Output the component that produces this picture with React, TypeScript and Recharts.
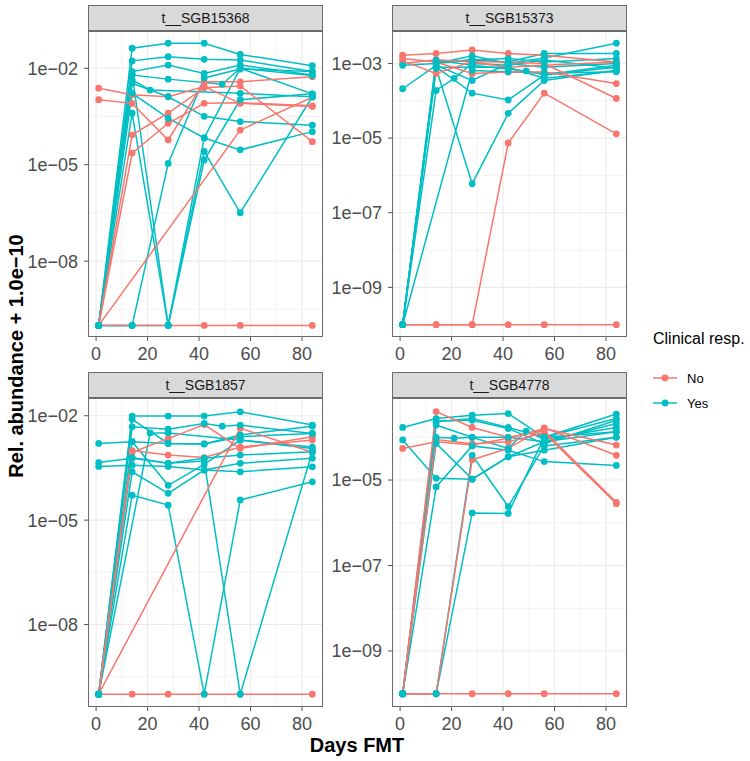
import { ComposedChart, Line, Scatter, XAxis, YAxis, CartesianGrid } from "recharts";

// zero counts are shifted by this pseudo count before the log scale
const PSEUDO = 1e-10;

// sampling days (null = sample missing for that subject)
const DAYS = [1, 14, 21, 28, 42, 49, 56, 84];
const X_TICKS = [0, 20, 40, 60, 80];
const X_MINOR = [10, 30, 50, 70];

const RED = "#F8766D";
const TEAL = "#00BFC4";

// y breaks
const TICKS_3DEC = [1e-2, 1e-5, 1e-8];
const MINOR_3DEC = [10 ** -3.5, 10 ** -6.5, 10 ** -9.5];
const TICKS_SGB15373 = [1e-3, 1e-5, 1e-7, 1e-9];
const TICKS_SGB4778 = [1e-5, 1e-7, 1e-9];
const MINOR_2DEC = [1e-4, 1e-6, 1e-8, 1e-10];

// t__SGB15368
const sgb15368No = [
  [2.4e-3, 1.5e-3, null, 1.3e-3, 2.7e-3, null, 8.1e-4, 6.5e-4],
  [1.05e-3, 8.1e-4, null, 5.9e-5, 3.8e-3, null, 3.8e-3, 5.5e-3],
  [0, 8.5e-5, null, 4.0e-4, 2.5e-3, null, 2.8e-3, 5.2e-5],
  [0, 2.3e-5, null, 1.95e-4, 8.1e-4, null, 8.5e-4, 6.8e-4],
  [0, null, null, null, null, null, 1.2e-4, 1.26e-3],
  [0, 0, null, 0, 0, null, 0, 0],
];
const sgb15368Yes = [
  [0, 4.2e-2, null, 6.0e-2, 6.0e-2, null, 2.7e-2, 1.2e-2],
  [0, 1.7e-2, null, 2.3e-2, 1.9e-2, null, 1.8e-2, 7.9e-3],
  [0, 7.9e-3, null, 1.26e-2, 6.9e-3, null, 1.26e-2, 6.2e-3],
  [0, 6.2e-3, null, 4.6e-3, null, 3.2e-3, 1.0e-2, 1.6e-3],
  [0, 4.4e-3, 2.1e-3, null, null, null, 1.66e-3, 1.3e-3],
  [0, 3.4e-3, null, 1.3e-3, 3.2e-4, null, 2.2e-4, 1.7e-4],
  [0, 1.66e-3, null, 2.8e-4, 6.8e-5, null, 2.9e-5, 1.07e-4],
  [0, 4.0e-4, null, 0, 2.6e-5, null, 3.2e-7, 1.3e-3],
  [0, 6.3e-3, null, 0, 6.8e-5, null, 1.0e-2, 6.0e-3],
  [0, 0, null, 1.1e-5, 5.0e-3, null, 9.5e-3, 8.0e-3],
  [0, 0, null, 0, 1.4e-5, null, 1.05e-3, 1.6e-3],
];

// t__SGB15373
const sgb15373No = [
  [1.66e-3, 1.86e-3, null, 2.3e-3, 1.86e-3, null, 1.66e-3, 1.1e-3],
  [1.35e-3, 1.1e-3, null, 5.4e-4, 5.9e-4, null, 5.9e-4, 2.9e-4],
  [1.17e-3, 5.4e-4, null, 1.12e-3, 1.1e-3, null, 1.0e-3, 1.15e-4],
  [1.0e-3, 1.26e-3, null, 1.1e-3, 7.9e-4, null, 8.9e-4, 1.1e-3],
  [0, 0, null, 0, 7.4e-6, null, 1.6e-4, 1.3e-5],
  [0, 0, null, 0, 0, null, 0, 0],
];
const sgb15373Yes = [
  [8.9e-4, 1.0e-3, null, 1.6e-3, 1.0e-3, null, 1.4e-3, 3.5e-3],
  [2.1e-4, 8.9e-4, null, 3.5e-4, 1.0e-3, null, 7.9e-4, 1.0e-3],
  [0, 1.1e-3, null, 1.23e-3, 1.1e-3, null, 1.86e-3, 1.86e-3],
  [0, 8.1e-4, null, 1.6e-4, 1.05e-4, null, 4.9e-4, 7.9e-4],
  [0, 7.4e-4, null, 6.0e-7, 4.6e-5, null, 3.5e-4, 6.6e-4],
  [0, 1.9e-4, 4.0e-4, 1.0e-3, 8.9e-4, null, 1.23e-3, 7.4e-4],
  [0, 1.23e-3, null, 8.9e-4, 7.1e-4, 6.3e-4, 5.0e-4, 8.9e-4],
  [0, 1.0e-3, null, 1.26e-3, 1.35e-3, null, 1.1e-3, 1.35e-3],
  [0, 7.9e-4, null, 7.9e-4, 7.9e-4, null, 4.0e-4, 6.3e-4],
  [0, null, null, 6.5e-4, 6.0e-4, null, 5.5e-4, 6.0e-4],
];

// t__SGB1857
const sgb1857No = [
  [0, 8.9e-4, null, 2.2e-3, 5.6e-3, null, 1.15e-3, 2.5e-3],
  [0, 1.0e-3, null, 7.4e-4, 6.3e-4, null, 1.26e-3, 2.0e-3],
  [0, null, null, null, null, null, 4.4e-3, 8.9e-4],
  [0, 0, null, 0, 0, null, 0, 0],
];
const sgb1857Yes = [
  [0, 9.8e-3, null, 9.8e-3, 9.8e-3, null, 1.3e-2, 5.4e-3],
  [1.6e-3, 1.8e-3, null, 1.6e-3, 1.55e-3, null, 2.5e-3, 3.1e-3],
  [4.5e-4, 6.0e-4, null, 4.3e-4, 6.0e-4, null, 7.4e-4, 9.3e-4],
  [3.5e-4, 3.8e-4, null, 3.5e-4, 2.75e-4, null, 2.45e-4, 3.4e-4],
  [0, 4.8e-3, null, 4.1e-3, 6.0e-3, 5.0e-3, 5.4e-3, 3.1e-3],
  [0, null, 3.2e-3, 3.2e-3, null, null, 2.0e-3, 1.15e-3],
  [0, 1.8e-3, null, 1.0e-4, 4.0e-4, null, 2.0e-3, 1.26e-3],
  [0, 2.45e-4, null, 5.9e-5, 2.75e-4, null, 4.3e-4, 6.0e-4],
  [0, 5.2e-5, null, 2.7e-5, 0, null, 3.8e-5, 1.26e-4],
  [0, 6.3e-4, null, 4.3e-4, 5.0e-4, null, 0, 9.3e-4],
  [0, 7.9e-3, null, 1.6e-3, 1.55e-3, null, 2.8e-3, 5.0e-3],
];

// t__SGB4778
const sgb4778No = [
  [5.5e-5, 7.9e-5, null, 6.6e-5, 9.5e-5, null, 1.6e-4, 6.6e-5],
  [0, 4.0e-4, null, 1.7e-4, 1.0e-4, null, 1.4e-4, 3.0e-6],
  [0, 0, null, 3.0e-5, 5.5e-5, null, 1.66e-4, 3.8e-5],
  [0, 8.9e-5, null, 7.1e-5, 7.9e-5, null, 1.26e-4, 2.8e-6],
  [0, 0, null, 0, 0, null, 0, 0],
];
const sgb4778Yes = [
  [1.7e-4, 2.75e-4, null, 3.3e-4, 3.6e-4, null, 1.0e-4, 3.5e-4],
  [8.7e-5, 1.1e-5, null, 1.05e-5, 3.5e-5, null, 7.9e-5, 1.35e-4],
  [0, 2.3e-4, null, 2.75e-4, 1.7e-4, null, 1.0e-4, 2.75e-4],
  [0, 1.95e-4, null, 1.0e-4, 1.0e-4, null, 7.9e-5, 2.1e-4],
  [0, 1.0e-4, 9.5e-5, 1.0e-4, 5.5e-5, 1.4e-4, 8.9e-5, 1.7e-4],
  [0, 7.2e-5, null, 1.05e-5, 3.5e-5, null, 5.0e-5, 1.0e-4],
  [0, 6.9e-6, null, 6.3e-5, 5.0e-5, null, 2.7e-5, 2.2e-5],
  [0, 0, null, 3.8e-5, 2.4e-6, null, 6.3e-5, 1.0e-4],
  [0, 0, null, 1.7e-6, 1.66e-6, null, 1.0e-4, 1.35e-4],
  [0, 2.4e-4, null, 2.5e-4, 1.6e-4, null, 7.1e-5, 2.5e-4],
];

const PANELS = [
  { name: "t__SGB15368", left: 88, top: 31, h: 306, lo: -10.36, hi: -0.84, ticks: TICKS_3DEC, minor: MINOR_3DEC, no: sgb15368No, yes: sgb15368Yes },
  { name: "t__SGB15373", left: 392, top: 31, h: 306, lo: -10.33, hi: -2.13, ticks: TICKS_SGB15373, minor: MINOR_2DEC, no: sgb15373No, yes: sgb15373Yes },
  { name: "t__SGB1857", left: 88, top: 398, h: 309, lo: -10.37, hi: -1.49, ticks: TICKS_3DEC, minor: MINOR_3DEC, no: sgb1857No, yes: sgb1857Yes },
  { name: "t__SGB4778", left: 392, top: 398, h: 309, lo: -10.31, hi: -3.08, ticks: TICKS_SGB4778, minor: MINOR_2DEC, no: sgb4778No, yes: sgb4778Yes },
];

const PANEL_W = 235;
const AXIS_W = 88;
const AXIS_H = 34;
const STRIP_H = 26;
const FONT = "'Liberation Sans', Arial, Helvetica, sans-serif";

type Pt = { day: number; v: number };

function toPoints(vals: (number | null)[]): Pt[] {
  const out: Pt[] = [];
  vals.forEach((val, i) => {
    if (val !== null) out.push({ day: DAYS[i], v: val + PSEUDO });
  });
  return out;
}

const sciLabel = (v: number) => {
  const e = Math.round(Math.log10(v));
  return `1e${e < 0 ? "\u2212" : "+"}${String(Math.abs(e)).padStart(2, "0")}`;
};

const dotShape = (color: string) => (props: any) =>
  <circle cx={props.cx} cy={props.cy} r={3.4} fill={color} stroke="none" />;

function Panel({ p }: { p: (typeof PANELS)[number] }) {
  const noSeries = p.no.map(toPoints);
  const yesSeries = p.yes.map(toPoints);
  const tickStyle = { fill: "#4D4D4D", fontSize: 18, fontFamily: FONT };
  return (
    <>
      <div
        style={{
          position: "absolute",
          left: p.left,
          top: p.top - STRIP_H,
          width: PANEL_W,
          height: STRIP_H,
          boxSizing: "border-box",
          background: "#D9D9D9",
          border: "1px solid #6b6b6b",
          fontSize: 14,
          color: "#1A1A1A",
          display: "flex",
          alignItems: "center",
          justifyContent: "center",
        }}
      >
        {p.name}
      </div>
      <div style={{ position: "absolute", left: p.left - AXIS_W, top: p.top }}>
        <ComposedChart
          width={AXIS_W + PANEL_W}
          height={p.h + AXIS_H}
          margin={{ top: 0, right: 0, bottom: 0, left: 0 }}
        >
          <CartesianGrid
            stroke="#EBEBEB"
            strokeWidth={0.6}
            horizontalValues={p.minor}
            verticalValues={X_MINOR}
          />
          <CartesianGrid
            stroke="#EBEBEB"
            strokeWidth={1.1}
            horizontalValues={p.ticks}
            verticalValues={X_TICKS}
          />
          <XAxis
            type="number"
            dataKey="day"
            domain={[-3.15, 88.15]}
            ticks={X_TICKS}
            allowDataOverflow
            height={AXIS_H}
            axisLine={false}
            tickSize={4}
            tickMargin={6}
            tickLine={{ stroke: "#555555" }}
            tick={tickStyle}
            interval={0}
          />
          <YAxis
            type="number"
            dataKey="v"
            scale="log"
            domain={[10 ** p.lo, 10 ** p.hi]}
            ticks={p.ticks}
            allowDataOverflow
            width={AXIS_W}
            axisLine={false}
            tickSize={4}
            tickMargin={6}
            tickLine={{ stroke: "#555555" }}
            tick={tickStyle}
            tickFormatter={sciLabel}
            interval={0}
          />
          {yesSeries.map((d, i) => (
            <Line
              key={`y${i}`}
              data={d}
              dataKey="v"
              type="linear"
              stroke={TEAL}
              strokeWidth={1.5}
              dot={false}
              activeDot={false}
              isAnimationActive={false}
            />
          ))}
          {noSeries.map((d, i) => (
            <Line
              key={`n${i}`}
              data={d}
              dataKey="v"
              type="linear"
              stroke={RED}
              strokeWidth={1.5}
              dot={false}
              activeDot={false}
              isAnimationActive={false}
            />
          ))}
          <Scatter data={noSeries.flat()} dataKey="v" shape={dotShape(RED)} isAnimationActive={false} />
          <Scatter data={yesSeries.flat()} dataKey="v" shape={dotShape(TEAL)} isAnimationActive={false} />
        </ComposedChart>
      </div>
      <div
        style={{
          position: "absolute",
          left: p.left,
          top: p.top,
          width: PANEL_W,
          height: p.h,
          boxSizing: "border-box",
          border: "1px solid #6b6b6b",
          pointerEvents: "none",
        }}
      />
    </>
  );
}

function LegendKey({ color }: { color: string }) {
  return (
    <svg width={26} height={12} style={{ display: "block" }}>
      <line x1={1} y1={6} x2={25} y2={6} stroke={color} strokeWidth={1.5} />
      <circle cx={13} cy={6} r={3.4} fill={color} />
    </svg>
  );
}

export default function App() {
  return (
    <div
      style={{
        position: "absolute",
        left: 0,
        top: 0,
        width: 750,
        height: 761,
        background: "#FFFFFF",
        fontFamily: FONT,
        overflow: "hidden",
      }}
    >
      {PANELS.map((p) => (
        <Panel key={p.name} p={p} />
      ))}
      <div
        style={{
          position: "absolute",
          left: 16,
          top: 356,
          transform: "translate(-50%, -50%) rotate(-90deg)",
          whiteSpace: "nowrap",
          fontWeight: "bold",
          fontSize: 20,
          color: "#000",
        }}
      >
        Rel. abundance + 1.0e−10
      </div>
      <div
        style={{
          position: "absolute",
          left: 357,
          top: 745,
          transform: "translate(-50%, -50%)",
          whiteSpace: "nowrap",
          fontWeight: "bold",
          fontSize: 20,
          color: "#000",
        }}
      >
        Days FMT
      </div>
      <div style={{ position: "absolute", left: 653, top: 330, fontSize: 16, color: "#000", whiteSpace: "nowrap" }}>
        Clinical resp.
      </div>
      {[
        { label: "No", color: RED, y: 378 },
        { label: "Yes", color: TEAL, y: 403 },
      ].map((row) => (
        <div
          key={row.label}
          style={{ position: "absolute", left: 652, top: row.y - 8, height: 16, display: "flex", alignItems: "center", gap: 9 }}
        >
          <LegendKey color={row.color} />
          <span style={{ fontSize: 13, color: "#000" }}>{row.label}</span>
        </div>
      ))}
    </div>
  );
}
